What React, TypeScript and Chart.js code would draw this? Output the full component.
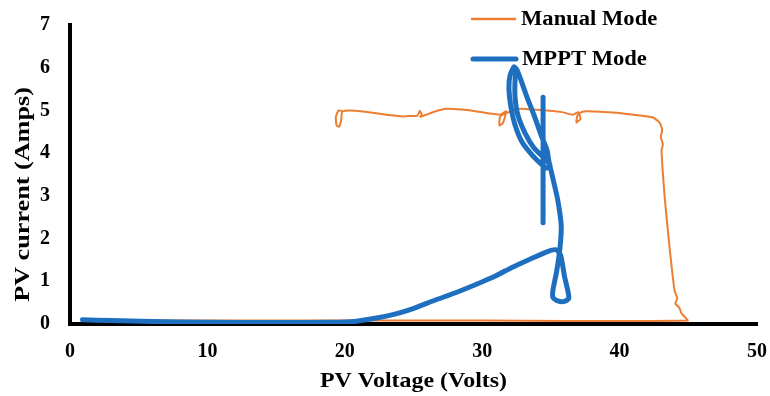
import React, { useEffect, useRef } from "react";
import { Chart, registerables } from "chart.js";

Chart.register(...registerables);

// ---- Data ----
const manualVoltage = [
  19.9, 19.55, 19.35, 19.4, 19.6, 19.75, 19.8, 20.3, 21.5, 23, 24.3, 24.75, 25.3, 25.45, 25.6, 25.5,
  26.5, 27.4, 28.5, 29.5, 30.5, 31.3, 31.75, 31.5, 31.25, 31.3, 31.7, 32.75, 34.7, 35.8, 36.6,
  37.0, 37.15, 36.85, 36.95, 37.3, 37.6, 39.5, 41.0, 42.4, 42.9, 43.1, 43.0, 43.15, 43.05,
  43.3, 43.65, 44.0, 44.2, 44.05, 44.35, 44.5, 44.95, 30, 15, 1.0,
];
const manualCurrent = [
  4.97, 5.0, 4.85, 4.65, 4.62, 4.8, 4.97, 5.0, 4.97, 4.9, 4.86, 4.87, 4.88, 4.99, 4.9, 4.85,
  4.97, 5.04, 5.02, 4.98, 4.93, 4.9, 4.98, 4.7, 4.65, 4.85, 4.93, 5.04, 5.0, 4.96, 4.9,
  4.96, 4.8, 4.72, 4.9, 4.97, 4.98, 4.95, 4.9, 4.84, 4.72, 4.55, 4.38, 4.2, 4.07,
  2.9, 1.75, 0.78, 0.6, 0.48, 0.38, 0.25, 0.08, 0.08, 0.08, 0.08,
];

// null = a break in the trace
const mpptVoltage: (number | null)[] = [
  0.9, 3, 6, 10, 15, 19, 20.7, 22.3, 23.5, 24.7, 26.5, 28.2, 29.8, 31, 32.2, 33.5, 34.7, 35.35, 35.7,
  36.0, 36.25, 36.3, 36.0, 35.5, 35.15, 35.15, 35.4, 35.65, 35.75, 35.5, 35.15, 34.86,
  34.72, 34.28, 33.77, 33.26, 32.82, 32.53, 32.31,
  32.02, 31.95, 32.1, 32.39, 32.9, 33.62, 34.28, 34.72, 34.93,
  34.5, 33.77, 33.12, 32.6, 32.39, 32.39, 32.46,
  null,
  34.43, 34.43,
];
const mpptCurrent: (number | null)[] = [
  0.1, 0.08, 0.06, 0.04, 0.035, 0.04, 0.06, 0.14, 0.22, 0.33, 0.55, 0.75, 0.96, 1.13, 1.33, 1.52, 1.69, 1.74, 1.62,
  1.1, 0.75, 0.6, 0.53, 0.54, 0.62, 0.8, 1.2, 1.75, 2.3, 2.9, 3.4, 3.8,
  4.07, 4.43, 4.89, 5.31, 5.71, 5.95, 6.02,
  5.81, 5.48, 5.06, 4.66, 4.26, 3.96, 3.75, 3.65, 3.72,
  3.89, 4.12, 4.47, 4.89, 5.31, 5.71, 5.95,
  null,
  5.31, 2.37,
];

const xTicks = [0, 10, 20, 30, 40, 50];
const yTicks = [0, 1, 2, 3, 4, 5, 6, 7];

const seriesNames = ["Manual Mode", "MPPT Mode"];
const seriesColors = ["#ED7D31", "#1F6FC0"];
const xTitle = "PV Voltage (Volts)";
const yTitle = "PV current (Amps)";

const FONT = "'Liberation Serif', 'Times New Roman', serif";

function toPoints(xs: (number | null)[], ys: (number | null)[]) {
  return xs.map((x, i) => ({ x: x as any, y: ys[i] as any }));
}

function stretchedText(
  ctx: CanvasRenderingContext2D,
  text: string,
  x: number,
  y: number,
  size: number,
  stretch: number,
  align: CanvasTextAlign,
  rotate = 0
) {
  ctx.save();
  ctx.translate(x, y);
  if (rotate) ctx.rotate(rotate);
  ctx.scale(stretch, 1);
  ctx.fillStyle = "#000";
  ctx.font = `bold ${size}px ${FONT}`;
  ctx.textBaseline = "middle";
  ctx.textAlign = align;
  ctx.fillText(text, 0, 0);
  ctx.restore();
}

const textPlugin = {
  id: "stretchedText",
  afterDraw(chart: any) {
    const ctx = chart.ctx as CanvasRenderingContext2D;
    const area = chart.chartArea;
    // legend
    const entries = [
      { lineX: area.left + 402, y: area.top - 6, width: 2.5 },
      { lineX: area.left + 403, y: area.top + 34, width: 5 },
    ];
    ctx.save();
    entries.forEach((e, i) => {
      ctx.strokeStyle = seriesColors[i];
      ctx.lineWidth = e.width;
      ctx.lineCap = "round";
      ctx.beginPath();
      ctx.moveTo(e.lineX, e.y);
      ctx.lineTo(e.lineX + 43, e.y);
      ctx.stroke();
      stretchedText(ctx, seriesNames[i], e.lineX + 49, e.y + 1, 20, 1.13, "left");
    });
    // axis titles
    stretchedText(ctx, xTitle, (area.left + area.right) / 2, chart.height - 14, 21, 1.14, "center");
    stretchedText(ctx, yTitle, 23, (area.top + area.bottom) / 2 + 20, 22, 1.19, "center", -Math.PI / 2);
    ctx.restore();
  },
};

export default function App() {
  const canvasRef = useRef<HTMLCanvasElement | null>(null);

  useEffect(() => {
    document.body.style.margin = "0";
    const canvas = canvasRef.current;
    if (!canvas) return;
    const chart = new Chart(canvas, {
      type: "line",
      data: {
        datasets: [
          {
            label: seriesNames[0],
            data: toPoints(manualVoltage, manualCurrent),
            borderColor: seriesColors[0],
            backgroundColor: seriesColors[0],
            borderWidth: 2,
            pointRadius: 0,
            tension: 0.15,
            spanGaps: false,
            order: 2,
          },
          {
            label: seriesNames[1],
            data: toPoints(mpptVoltage, mpptCurrent),
            borderColor: seriesColors[1],
            backgroundColor: seriesColors[1],
            borderWidth: 5,
            pointRadius: 0,
            tension: 0.2,
            spanGaps: false,
            borderCapStyle: "round",
            borderJoinStyle: "round",
            order: 1,
          },
        ],
      },
      options: {
        animation: false,
        responsive: true,
        maintainAspectRatio: false,
        layout: { padding: { top: 25, right: 13, left: 0, bottom: 0 } },
        plugins: {
          legend: { display: false },
          tooltip: { enabled: false },
        },
        scales: {
          x: {
            type: "linear",
            min: 0,
            max: 50,
            afterBuildTicks: (scale: any) => {
              scale.ticks = xTicks.map((v) => ({ value: v }));
            },
            afterFit: (scale: any) => {
              scale.height = 72;
              scale.paddingLeft = 0;
              scale.paddingRight = 0;
            },
            grid: { display: false, drawTicks: false },
            border: { display: true, color: "#000", width: 4 },
            ticks: {
              color: "#000",
              padding: 16,
              maxRotation: 0,
              font: { family: FONT, size: 20, weight: "bold" },
            },
            title: { display: false },
          },
          y: {
            type: "linear",
            min: 0,
            max: 7,
            afterBuildTicks: (scale: any) => {
              scale.ticks = yTicks.map((v) => ({ value: v }));
            },
            afterFit: (scale: any) => {
              scale.width = 70;
              scale.paddingTop = 0;
              scale.paddingBottom = 0;
            },
            grid: { display: false, drawTicks: false },
            border: { display: true, color: "#000", width: 4 },
            ticks: {
              color: "#000",
              padding: 20,
              font: { family: FONT, size: 20, weight: "bold" },
            },
            title: { display: false },
          },
        },
      },
      plugins: [textPlugin],
    } as any);
    return () => chart.destroy();
  }, []);

  return (
    <div style={{ width: 770, height: 396, position: "relative", background: "#fff" }}>
      <canvas ref={canvasRef} />
    </div>
  );
}
